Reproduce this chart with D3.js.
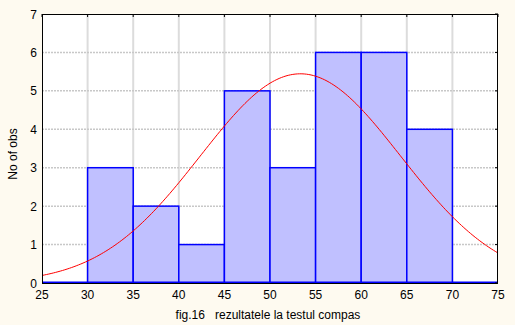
<!DOCTYPE html>
<html><head><meta charset="utf-8">
<script src="https://cdn.jsdelivr.net/npm/d3@7"></script>
<style>
body{margin:0;background:#fefaf0;}
svg{display:block;font-family:"Liberation Sans",Arial,sans-serif;}
</style></head>
<body><svg id="c" width="515" height="325"></svg>
<script>
// Data
const binStarts = [30, 35, 40, 45, 50, 55, 60, 65];
const binWidth = 5;
const counts = [3, 2, 1, 5, 3, 6, 6, 4];
const xTicks = [25, 30, 35, 40, 45, 50, 55, 60, 65, 70, 75];
const yTicks = [0, 1, 2, 3, 4, 5, 6, 7];
const xTitle = "fig.16   rezultatele la testul compas";
const yTitle = "No of obs";

const svg = d3.select("#c");
const m = {l: 42, r: 498, t: 14, b: 283};
const x = d3.scaleLinear().domain([25, 75]).range([m.l, m.r]);
const y = d3.scaleLinear().domain([0, 7]).range([m.b, m.t]);

svg.append("rect").attr("x", m.l).attr("y", m.t).attr("width", m.r - m.l).attr("height", m.b - m.t).attr("fill", "#fff");

// grid
svg.append("g").selectAll("line").data(xTicks.slice(1, -1)).join("line")
  .attr("x1", d => x(d)).attr("x2", d => x(d)).attr("y1", m.t).attr("y2", m.b)
  .attr("stroke", "#dcdcdc").attr("stroke-width", 2);
svg.append("g").selectAll("line").data(yTicks.slice(1, -1)).join("line")
  .attr("x1", m.l).attr("x2", m.r).attr("y1", d => y(d)).attr("y2", d => y(d))
  .attr("stroke", "#c8c8c8").attr("stroke-width", 1.5).attr("stroke-dasharray", "2,1");

// bars
const bins = binStarts.map((s, i) => ({s, c: counts[i]}));
svg.append("g").selectAll("rect").data(bins).join("rect")
  .attr("x", d => x(d.s)).attr("width", d => x(d.s + binWidth) - x(d.s))
  .attr("y", d => y(d.c)).attr("height", d => y(0) - y(d.c))
  .attr("fill", "#c0c0ff").attr("stroke", "#0000ff").attr("stroke-width", 1.5);
svg.append("line").attr("x1", m.l).attr("x2", m.r).attr("y1", y(0) - 0.5).attr("y2", y(0) - 0.5)
  .attr("stroke", "#0000ff").attr("stroke-width", 2);

// fitted normal curve from the histogram
const n = d3.sum(counts);
const mids = binStarts.map(s => s + binWidth / 2);
const mean = d3.sum(mids.map((v, i) => v * counts[i])) / n;
const sd = Math.sqrt(d3.sum(mids.map((v, i) => counts[i] * (v - mean) ** 2)) / (n - 1));
const xs = d3.range(25, 75.01, 0.25);
const dens = v => n * binWidth / (sd * Math.sqrt(2 * Math.PI)) * Math.exp(-((v - mean) ** 2) / (2 * sd * sd));
svg.append("path").datum(xs)
  .attr("d", d3.line().x(v => x(v)).y(v => y(dens(v))))
  .attr("fill", "none").attr("stroke", "#ff0000").attr("stroke-width", 1);

// frame
svg.append("rect").attr("x", m.l + 0.5).attr("y", m.t + 0.5).attr("width", m.r - m.l - 1).attr("height", m.b - m.t)
  .attr("fill", "none").attr("stroke", "#000").attr("stroke-width", 1);
// inward ticks
svg.append("g").selectAll("line").data(xTicks).join("line")
  .attr("x1", d => x(d)).attr("x2", d => x(d)).attr("y1", m.t).attr("y2", m.t + 3).attr("stroke", "#000");
svg.append("g").selectAll("line").data(yTicks).join("line")
  .attr("x1", m.r - 3).attr("x2", m.r).attr("y1", d => y(d)).attr("y2", d => y(d)).attr("stroke", "#000");

// labels
svg.append("g").selectAll("text").data(xTicks).join("text")
  .attr("x", d => x(d)).attr("y", 299).attr("text-anchor", "middle")
  .attr("font-size", 12).attr("fill", "#000").text(d => d);
svg.append("g").selectAll("text").data(yTicks).join("text")
  .attr("x", 37).attr("y", d => y(d) + 4.5).attr("text-anchor", "end")
  .attr("font-size", 12).attr("fill", "#000").text(d => d);
svg.append("text").attr("x", 268).attr("y", 319).attr("text-anchor", "middle")
  .attr("font-size", 12).attr("fill", "#000").attr("xml:space", "preserve").style("white-space", "pre").text(xTitle);
svg.append("text").attr("transform", "translate(17,154) rotate(-90)").attr("text-anchor", "middle")
  .attr("font-size", 12).attr("fill", "#000").text(yTitle);
</script></body></html>
